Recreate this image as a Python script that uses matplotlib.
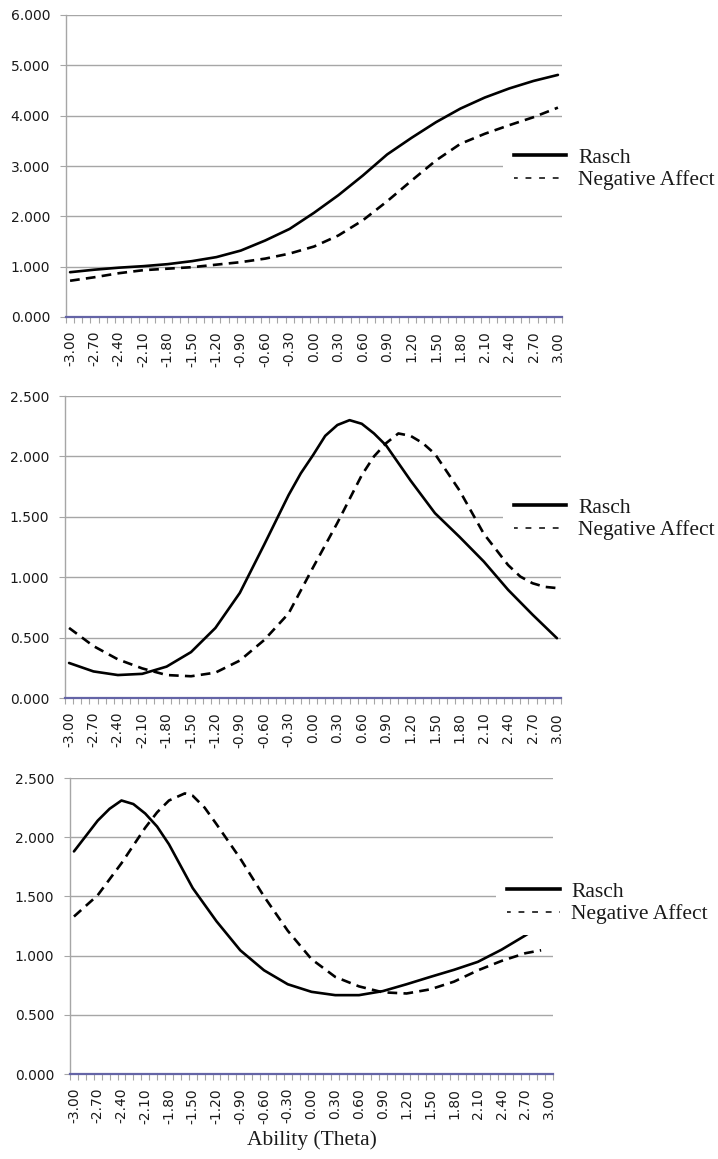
import matplotlib
matplotlib.use("Agg")
import matplotlib.pyplot as plt
from matplotlib.lines import Line2D
import numpy as np

plt.rcParams['lines.scale_dashes'] = False
plt.rcParams['font.family'] = ['DejaVu Sans']

# ---------------- data ----------------
THETA = [-3.0, -2.7, -2.4, -2.1, -1.8, -1.5, -1.2, -0.9, -0.6, -0.3, 0.0,
         0.3, 0.6, 0.9, 1.2, 1.5, 1.8, 2.1, 2.4, 2.7, 3.0]

p1_rasch = [0.89, 0.94, 0.98, 1.01, 1.05, 1.11, 1.19, 1.32, 1.52, 1.75, 2.07,
            2.42, 2.81, 3.23, 3.56, 3.87, 4.14, 4.36, 4.54, 4.69, 4.81]
p1_neg = [0.72, 0.79, 0.87, 0.93, 0.96, 0.99, 1.04, 1.09, 1.16, 1.26, 1.40,
          1.62, 1.92, 2.30, 2.71, 3.11, 3.44, 3.64, 3.81, 3.97, 4.16]

p2_rasch_theta = [-3.0, -2.7, -2.4, -2.1, -1.8, -1.5, -1.2, -0.9, -0.6, -0.3, -0.15, 0.0,
                  0.15, 0.3, 0.45, 0.6, 0.75, 0.9, 1.2, 1.5, 1.8, 2.1, 2.4, 2.7, 3.0]
p2_rasch = [0.29, 0.22, 0.19, 0.20, 0.26, 0.38, 0.58, 0.87, 1.27, 1.68, 1.86, 2.01,
            2.17, 2.26, 2.30, 2.27, 2.19, 2.09, 1.80, 1.53, 1.335, 1.13, 0.895, 0.69, 0.495]
p2_neg_theta = [-3.0, -2.7, -2.4, -2.1, -1.8, -1.5, -1.2, -0.9, -0.6, -0.3, 0.0,
                0.3, 0.6, 0.75, 0.9, 1.05, 1.2, 1.35, 1.5, 1.8, 2.1, 2.4, 2.55, 2.7, 2.85, 3.0]
p2_neg = [0.58, 0.43, 0.32, 0.245, 0.19, 0.18, 0.21, 0.31, 0.48, 0.70, 1.08,
          1.45, 1.845, 2.0, 2.11, 2.19, 2.17, 2.11, 2.02, 1.72, 1.36, 1.10, 1.005, 0.95, 0.92, 0.91]

p3_rasch_theta = [-3.0, -2.85, -2.7, -2.55, -2.4, -2.25, -2.1, -1.95, -1.8, -1.5, -1.2,
                  -0.9, -0.6, -0.3, 0.0, 0.3, 0.6, 0.9, 1.2, 1.5, 1.8, 2.1, 2.4, 2.7, 3.0]
p3_rasch = [1.88, 2.01, 2.14, 2.24, 2.31, 2.28, 2.20, 2.09, 1.94, 1.57, 1.29,
            1.045, 0.876, 0.758, 0.694, 0.666, 0.666, 0.70, 0.758, 0.82, 0.88, 0.947, 1.05, 1.17, 1.30]
p3_neg_theta = [-3.0, -2.7, -2.4, -2.1, -1.95, -1.8, -1.6, -1.5, -1.35, -1.2, -0.9, -0.6, -0.3,
                0.0, 0.3, 0.6, 0.9, 1.2, 1.5, 1.8, 2.1, 2.4, 2.7, 2.9]
p3_neg = [1.33, 1.51, 1.78, 2.08, 2.21, 2.31, 2.37, 2.35, 2.25, 2.11, 1.82, 1.50, 1.21,
          0.97, 0.82, 0.74, 0.69, 0.68, 0.715, 0.78, 0.875, 0.955, 1.02, 1.045]

XLABELS = ["%.2f" % v for v in THETA]
LEGEND = ["Rasch", "Negative Affect"]
XTITLE = "Ability (Theta)"

# ---------------- figure ----------------
W, H = 718, 1159
fig = plt.figure(figsize=(W / 100, H / 100), dpi=100)


def ax_rect(left, right, top, bottom):
    return [left / W, 1 - bottom / H, (right - left) / W, (bottom - top) / H]


panels = [
    dict(rect=ax_rect(66, 562, 15, 317), ymax=6.0, ystep=1.0,
         series=[(THETA, p1_rasch), (THETA, p1_neg)], leg=(0.881, 0.490)),
    dict(rect=ax_rect(65, 561, 396, 698), ymax=2.5, ystep=0.5,
         series=[(p2_rasch_theta, p2_rasch), (p2_neg_theta, p2_neg)], leg=(0.883, 0.593)),
    dict(rect=ax_rect(70, 553, 778, 1074), ymax=2.5, ystep=0.5,
         series=[(p3_rasch_theta, p3_rasch), (p3_neg_theta, p3_neg)], leg=(0.882, 0.578)),
]

GRID = '#a6a6a6'
AXBLUE = '#6464a6'
serif = ['Liberation Serif', 'DejaVu Serif']

for p in panels:
    ax = fig.add_axes(p['rect'])
    ax.set_xlim(-3.05, 3.05)
    ax.set_ylim(0, p['ymax'])
    yt = np.arange(0, p['ymax'] + 1e-9, p['ystep'])
    ax.set_yticks(yt)
    ax.set_yticklabels(["%.3f" % v for v in yt])
    ax.yaxis.grid(True, color=GRID, linewidth=1.0)
    ax.set_axisbelow(True)
    ax.set_xticks(THETA)
    ax.set_xticklabels(XLABELS, rotation=90)
    ax.set_xticks(np.arange(-3.05, 3.06, 0.1), minor=True)
    ax.tick_params(axis='x', which='major', length=0, pad=10, labelsize=10, labelcolor='#1a1a1a')
    ax.tick_params(axis='x', which='minor', length=4, width=0.8, color=GRID, direction='out')
    ax.tick_params(axis='y', which='major', length=4.5, width=0.8, color=GRID, pad=7,
                   labelsize=10, labelcolor='#1a1a1a')
    for s in ['top', 'right']:
        ax.spines[s].set_visible(False)
    ax.spines['left'].set_color(GRID)
    ax.spines['left'].set_linewidth(1.0)
    ax.spines['bottom'].set_color(AXBLUE)
    ax.spines['bottom'].set_linewidth(1.6)
    ax.spines['bottom'].set_zorder(3)

    (tx1, y1), (tx2, y2) = p['series']
    ax.plot(tx1, y1, color='black', linewidth=1.9, solid_joinstyle='round',
            solid_capstyle='round', zorder=4)
    ax.plot(tx2, y2, color='black', linewidth=1.9, linestyle=(0, (7.0, 4.5)),
            dash_capstyle='butt', zorder=4)

    handles = [Line2D([], [], color='black', linewidth=2.6),
               Line2D([], [], color='black', linewidth=1.1, linestyle=(1.5, (4.2, 5.6)))]
    leg = ax.legend(handles, LEGEND, loc='center left', bbox_to_anchor=p['leg'],
                    bbox_transform=ax.transAxes, frameon=True, fancybox=False,
                    facecolor='white', edgecolor='none', framealpha=1.0,
                    borderpad=0.5, borderaxespad=0, handlelength=2.45,
                    handletextpad=0.55, labelspacing=0.12,
                    prop={'family': serif, 'size': 15.5})
    for t in leg.get_texts():
        t.set_color('#1a1a1a')
    leg.set_zorder(10)

fig.text(311.5 / W, 1 - 1140 / H, XTITLE, ha='center', va='center',
         family=serif, fontsize=15.5, color='#1a1a1a')

fig.savefig('out.png', dpi=100)
